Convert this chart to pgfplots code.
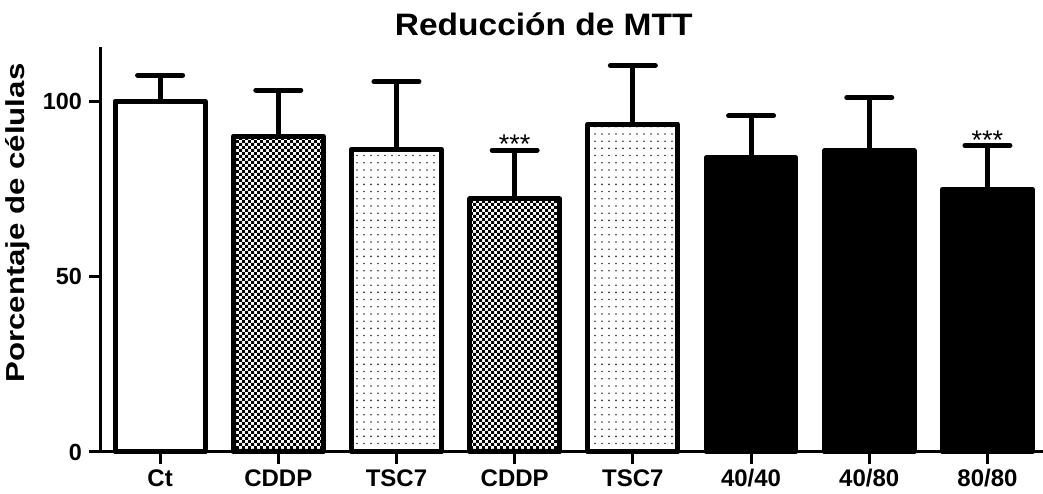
\documentclass[border=0pt]{standalone}
\usepackage{pgfplots}
\pgfplotsset{compat=1.18}
\usepackage{fontspec}
\setmainfont{Liberation Sans}
\usetikzlibrary{patterns}
\pgfdeclarepatternformonly{checker}{\pgfpointorigin}{\pgfqpoint{3pt}{3pt}}{\pgfqpoint{3pt}{3pt}}{%
  \pgfpathrectangle{\pgfpointorigin}{\pgfqpoint{1.5pt}{1.5pt}}%
  \pgfpathrectangle{\pgfqpoint{1.5pt}{1.5pt}}{\pgfqpoint{1.5pt}{1.5pt}}%
  \pgfusepath{fill}}
\pgfdeclarepatternformonly{sdots}{\pgfqpoint{-1pt}{-1pt}}{\pgfqpoint{2.5pt}{2.6pt}}{\pgfqpoint{3.5pt}{3.6pt}}{%
  \pgfpathcircle{\pgfpointorigin}{0.45pt}%
  \pgfusepath{fill}}
\begin{document}
\begin{tikzpicture}
\begin{axis}[
  name=ax,
  scale only axis, width=471pt, height=202.5pt,
  xmin=-0.5, xmax=7.47, ymin=0, ymax=115.4,
  axis x line*=bottom, axis y line*=left,
  axis line style={line width=1.5pt},
  xtick={0,...,7}, xticklabels={Ct,CDDP,TSC7,CDDP,TSC7,40/40,40/80,80/80},
  ytick={0,50,100},
  tick style={line width=1.5pt, black}, major tick length=6pt, tick align=outside,
  xticklabel style={font=\bfseries\fontsize{12}{14}\selectfont, yshift=-1pt, inner sep=1.5pt},
  yticklabel style={font=\bfseries\fontsize{11.7}{14}\selectfont},
  /pgf/number format/assume math mode=true,
  ylabel={\scalebox{1.2}[1]{Porcentaje de células}},
  ylabel style={font=\bfseries\fontsize{13}{15}\selectfont, at={(axis description cs:-0.0754,0.565)}, anchor=south, inner sep=0pt},
  title={\scalebox{1.08}[1]{Reducción de MTT}},
  title style={font=\bfseries\fontsize{15.5}{18}\selectfont, at={(axis description cs:0.47,1)}, anchor=base, yshift=-0.5pt},
  clip=false,
  mybar/.style={ybar, bar width=0.76, bar shift=0pt, draw=black, line width=2.5pt, line join=round,
    error bars/y dir=plus, error bars/y explicit,
    error bars/error bar style={line width=2.5pt, black},
    error bars/error mark options={rotate=90, line width=2.5pt, mark size=11.25pt, line cap=round, black}},
]
\addplot[mybar, fill=white] coordinates {(0,100) +- (0,7.4)};
\addplot[mybar, pattern=checker, pattern color=black] coordinates {(1,90.0) +- (0,13.1)};
\addplot[mybar, pattern=sdots, pattern color=black!80] coordinates {(2,86.3) +- (0,19.2)};
\addplot[mybar, pattern=checker, pattern color=black] coordinates {(3,72.1) +- (0,13.9)};
\addplot[mybar, pattern=sdots, pattern color=black!80] coordinates {(4,93.4) +- (0,16.7)};
\addplot[mybar, fill=black] coordinates {(5,83.8) +- (0,12.0)};
\addplot[mybar, fill=black] coordinates {(6,85.8) +- (0,15.1)};
\addplot[mybar, fill=black] coordinates {(7,74.9) +- (0,12.4)};
\node[font=\fontsize{13.5}{14}\selectfont, anchor=base] at (axis cs:3,85) {***};
\node[font=\fontsize{13.5}{14}\selectfont, anchor=base] at (axis cs:7,86.3) {***};
\end{axis}
\pgfresetboundingbox
\useasboundingbox ([shift={(-50.5pt,-21pt)}]ax.south west) rectangle ([shift={(0pt,23.5pt)}]ax.north east);
\end{tikzpicture}
\end{document}
